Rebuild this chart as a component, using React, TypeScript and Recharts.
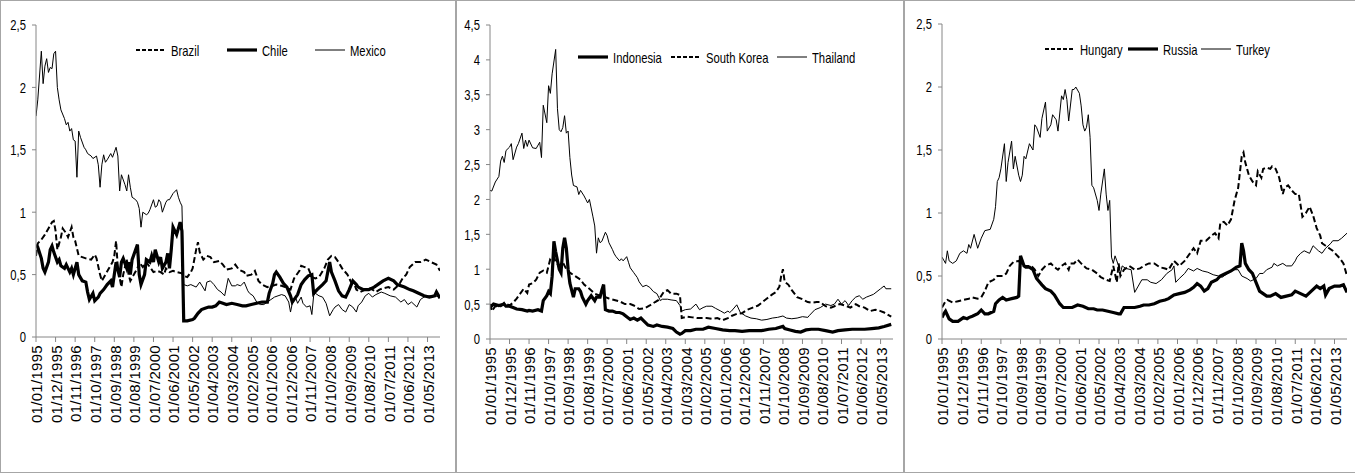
import React from 'react'
import { LineChart, Line, XAxis, YAxis, Legend } from 'recharts'

type Pt = [number, number]

// month index 0 = Jan 1995, last = Dec 2013
const TICK_MONTHS = [0, 11, 22, 33, 44, 55, 66, 77, 88, 99, 110, 121, 132, 143, 154, 165, 176, 187, 198, 209, 220]
const Y_TICKS_25 = [0, 0.5, 1, 1.5, 2, 2.5]
const Y_TICKS_45 = [0, 0.5, 1, 1.5, 2, 2.5, 3, 3.5, 4, 4.5]

const BRAZIL: Pt[] = [[0,0.65],[1,0.75],[3,0.78],[5,0.82],[7,0.87],[9,0.92],[10,0.93],[11,0.85],[12,0.7],[14,0.8],[15,0.87],[17,0.83],[18,0.8],[20,0.88],[21,0.8],[22,0.77],[24,0.65],[26,0.64],[28,0.63],[31,0.62],[33,0.66],[34,0.63],[36,0.5],[37,0.45],[39,0.5],[41,0.55],[43,0.6],[44,0.65],[45,0.77],[46,0.55],[48,0.4],[49,0.5],[51,0.62],[52,0.5],[53,0.45],[55,0.5],[57,0.55],[58,0.6],[60,0.56],[62,0.6],[64,0.56],[66,0.52],[68,0.53],[70,0.52],[72,0.5],[73,0.55],[75,0.52],[77,0.53],[79,0.52],[82,0.51],[83,0.49],[85,0.48],[87,0.52],[88,0.55],[90,0.7],[91,0.76],[92,0.68],[94,0.62],[96,0.65],[98,0.64],[100,0.6],[103,0.61],[105,0.58],[107,0.54],[110,0.55],[112,0.58],[114,0.54],[117,0.52],[118,0.49],[121,0.5],[123,0.53],[125,0.45],[127,0.42],[130,0.4],[133,0.41],[135,0.42],[138,0.41],[140,0.4],[143,0.38],[145,0.47],[148,0.53],[149,0.57],[151,0.56],[153,0.55],[155,0.48],[157,0.47],[159,0.48],[162,0.55],[164,0.62],[166,0.65],[168,0.64],[170,0.6],[172,0.55],[175,0.5],[177,0.44],[179,0.42],[180,0.38],[182,0.36],[185,0.38],[188,0.39],[191,0.36],[193,0.38],[195,0.39],[198,0.4],[201,0.38],[204,0.42],[206,0.47],[208,0.5],[210,0.56],[213,0.6],[216,0.6],[219,0.62],[222,0.6],[225,0.58],[227,0.53]]
const CHILE: Pt[] = [[0,0.74],[1,0.72],[3,0.63],[4,0.55],[5,0.52],[7,0.6],[8,0.7],[9,0.73],[10,0.68],[12,0.6],[13,0.62],[14,0.57],[16,0.55],[17,0.58],[19,0.52],[20,0.55],[21,0.5],[23,0.6],[24,0.5],[26,0.45],[28,0.44],[29,0.36],[30,0.3],[32,0.35],[33,0.29],[35,0.32],[36,0.35],[38,0.38],[40,0.42],[42,0.45],[43,0.4],[44,0.5],[45,0.6],[47,0.48],[48,0.6],[49,0.63],[51,0.55],[52,0.6],[53,0.5],[54,0.62],[57,0.74],[58,0.5],[59,0.42],[61,0.5],[62,0.62],[64,0.6],[65,0.65],[66,0.6],[67,0.7],[69,0.6],[70,0.64],[71,0.55],[73,0.6],[74,0.67],[75,0.55],[76,0.7],[77,0.88],[79,0.82],[80,0.87],[81,0.92],[82,0.85],[83,0.13],[85,0.13],[88,0.14],[89,0.15],[91,0.19],[93,0.22],[95,0.23],[97,0.24],[99,0.24],[101,0.25],[103,0.28],[105,0.27],[107,0.26],[110,0.27],[113,0.26],[116,0.25],[118,0.25],[121,0.26],[124,0.27],[127,0.28],[130,0.28],[131,0.35],[133,0.43],[134,0.5],[135,0.52],[137,0.48],[139,0.43],[141,0.4],[143,0.33],[144,0.28],[147,0.34],[149,0.42],[151,0.46],[153,0.49],[155,0.5],[156,0.35],[158,0.38],[161,0.42],[163,0.45],[165,0.6],[166,0.52],[168,0.45],[170,0.37],[172,0.33],[174,0.32],[176,0.38],[178,0.45],[180,0.42],[181,0.4],[184,0.38],[187,0.38],[190,0.4],[193,0.43],[195,0.45],[198,0.47],[201,0.45],[203,0.42],[207,0.4],[210,0.38],[212,0.37],[215,0.35],[218,0.33],[221,0.32],[224,0.33],[225,0.36],[227,0.31]]
const MEXICO: Pt[] = [[0,1.77],[1,1.9],[3,2.29],[4,2.03],[5,2.17],[6,2.23],[7,2.12],[8,2.16],[9,2.15],[10,2.27],[11,2.29],[12,2.0],[13,1.9],[14,1.82],[16,1.75],[17,1.7],[18,1.72],[19,1.65],[20,1.67],[21,1.58],[22,1.57],[23,1.28],[24,1.65],[25,1.6],[27,1.52],[28,1.5],[29,1.47],[31,1.45],[32,1.43],[34,1.45],[35,1.38],[36,1.2],[37,1.38],[38,1.46],[39,1.4],[40,1.42],[42,1.47],[43,1.44],[44,1.48],[45,1.52],[46,1.45],[47,1.17],[48,1.3],[50,1.22],[51,1.17],[52,1.3],[53,1.2],[54,1.12],[56,1.1],[57,1.08],[58,1.03],[59,0.88],[60,1.0],[62,0.98],[63,0.99],[64,1.02],[66,1.1],[67,1.04],[68,1.05],[69,1.1],[70,1.08],[71,1.0],[73,1.08],[74,1.1],[75,1.1],[77,1.15],[79,1.18],[80,1.12],[81,1.08],[82,1.05],[83,0.42],[85,0.41],[87,0.42],[90,0.4],[92,0.44],[95,0.37],[96,0.44],[98,0.45],[100,0.42],[102,0.38],[104,0.36],[106,0.33],[107,0.4],[108,0.47],[110,0.41],[112,0.41],[113,0.42],[115,0.41],[117,0.44],[119,0.37],[120,0.35],[122,0.33],[124,0.28],[126,0.26],[128,0.26],[130,0.28],[132,0.3],[134,0.32],[136,0.33],[138,0.34],[140,0.33],[142,0.28],[143,0.2],[144,0.27],[146,0.31],[147,0.27],[149,0.32],[150,0.27],[152,0.24],[154,0.25],[155,0.18],[156,0.33],[157,0.35],[159,0.33],[161,0.32],[163,0.27],[165,0.17],[167,0.22],[168,0.24],[170,0.26],[172,0.22],[174,0.2],[176,0.26],[178,0.24],[180,0.2],[181,0.25],[183,0.28],[185,0.33],[187,0.35],[189,0.32],[191,0.34],[194,0.36],[196,0.35],[199,0.33],[202,0.32],[205,0.28],[207,0.3],[209,0.26],[211,0.28],[214,0.24],[216,0.3],[218,0.32],[221,0.33],[224,0.33],[227,0.32]]

const INDONESIA: Pt[] = [[0,0.45],[2,0.5],[5,0.48],[8,0.5],[9,0.47],[11,0.47],[13,0.45],[15,0.43],[18,0.42],[21,0.4],[22,0.41],[24,0.4],[27,0.42],[29,0.4],[30,0.55],[32,0.62],[33,0.68],[34,0.65],[35,0.9],[36,1.4],[37,1.25],[39,1.0],[40,0.95],[41,1.3],[42,1.45],[43,1.3],[44,1.0],[45,0.8],[47,0.6],[48,0.72],[50,0.72],[51,0.68],[52,0.6],[54,0.5],[55,0.55],[57,0.62],[59,0.55],[60,0.6],[62,0.6],[63,0.7],[64,0.78],[65,0.42],[67,0.4],[69,0.4],[71,0.38],[73,0.38],[75,0.36],[77,0.32],[79,0.28],[81,0.3],[83,0.27],[85,0.3],[87,0.25],[89,0.2],[92,0.18],[94,0.2],[97,0.18],[100,0.17],[103,0.15],[105,0.1],[107,0.07],[108,0.08],[110,0.12],[113,0.12],[116,0.14],[120,0.14],[123,0.17],[127,0.15],[131,0.13],[135,0.12],[138,0.12],[142,0.11],[146,0.12],[150,0.12],[153,0.12],[157,0.14],[161,0.15],[165,0.18],[166,0.15],[169,0.13],[172,0.11],[175,0.1],[178,0.13],[181,0.14],[185,0.14],[189,0.12],[193,0.1],[196,0.12],[200,0.13],[204,0.14],[208,0.14],[211,0.14],[215,0.15],[219,0.16],[222,0.18],[226,0.21]]
const SOUTH_KOREA: Pt[] = [[0,0.5],[1,0.4],[3,0.47],[6,0.47],[8,0.52],[11,0.48],[13,0.52],[15,0.58],[17,0.65],[19,0.72],[21,0.66],[22,0.78],[24,0.8],[26,0.85],[28,0.95],[30,0.98],[32,0.95],[34,1.15],[36,1.18],[37,1.1],[39,1.05],[41,1.1],[43,1.0],[45,0.95],[48,0.9],[51,0.85],[53,0.78],[56,0.72],[59,0.65],[62,0.62],[65,0.6],[67,0.58],[70,0.56],[73,0.54],[76,0.5],[79,0.5],[81,0.48],[84,0.43],[87,0.44],[90,0.48],[93,0.53],[95,0.56],[98,0.68],[100,0.7],[102,0.65],[105,0.65],[107,0.63],[108,0.3],[111,0.32],[114,0.31],[117,0.3],[120,0.3],[122,0.3],[125,0.29],[128,0.3],[131,0.27],[134,0.3],[136,0.33],[139,0.36],[142,0.37],[145,0.42],[148,0.45],[151,0.48],[153,0.52],[156,0.58],[159,0.64],[161,0.67],[163,0.75],[164,0.9],[165,1.0],[166,0.82],[168,0.78],[170,0.7],[173,0.6],[176,0.57],[179,0.53],[181,0.52],[184,0.53],[186,0.53],[189,0.47],[192,0.45],[194,0.47],[197,0.5],[200,0.48],[203,0.45],[206,0.5],[208,0.47],[211,0.45],[214,0.4],[217,0.42],[220,0.4],[222,0.38],[226,0.32]]
const THAILAND: Pt[] = [[0,2.13],[1,2.12],[3,2.25],[5,2.33],[6,2.55],[7,2.62],[8,2.53],[9,2.7],[11,2.75],[12,2.8],[13,2.57],[15,2.75],[16,2.8],[18,2.95],[19,2.73],[20,2.85],[21,2.76],[22,2.85],[24,2.74],[26,2.73],[28,2.82],[29,2.6],[30,3.35],[32,3.1],[33,3.63],[34,3.52],[35,3.8],[37,4.15],[38,3.3],[39,3.0],[40,2.97],[41,3.03],[42,3.2],[43,2.95],[44,2.98],[45,2.6],[46,2.35],[47,2.2],[49,2.18],[50,2.07],[51,2.13],[53,2.05],[54,2.0],[55,1.95],[56,2.0],[58,1.75],[59,1.62],[60,1.23],[61,1.45],[62,1.38],[63,1.4],[65,1.53],[66,1.48],[67,1.38],[69,1.28],[70,1.22],[71,1.18],[73,1.12],[74,1.15],[75,1.12],[77,1.18],[78,1.1],[79,1.02],[81,0.95],[83,0.88],[84,0.82],[86,0.75],[88,0.77],[90,0.74],[92,0.68],[94,0.65],[96,0.55],[97,0.57],[100,0.57],[102,0.56],[105,0.55],[107,0.48],[108,0.4],[110,0.42],[113,0.43],[116,0.5],[118,0.42],[120,0.45],[122,0.47],[125,0.47],[127,0.44],[130,0.4],[132,0.37],[134,0.4],[135,0.38],[136,0.4],[139,0.49],[141,0.38],[144,0.33],[147,0.3],[150,0.29],[153,0.27],[156,0.28],[159,0.3],[162,0.31],[165,0.33],[167,0.3],[170,0.29],[173,0.3],[176,0.32],[179,0.31],[180,0.34],[183,0.42],[186,0.45],[189,0.5],[192,0.48],[194,0.5],[196,0.57],[198,0.5],[200,0.55],[202,0.48],[204,0.55],[206,0.6],[208,0.62],[210,0.57],[212,0.6],[214,0.62],[216,0.64],[218,0.68],[220,0.72],[222,0.76],[223,0.72],[226,0.72]]

const HUNGARY: Pt[] = [[0,0.25],[2,0.3],[3,0.31],[6,0.29],[9,0.3],[12,0.31],[15,0.32],[17,0.33],[20,0.32],[22,0.33],[24,0.38],[26,0.45],[29,0.47],[31,0.5],[34,0.5],[36,0.52],[38,0.58],[40,0.61],[43,0.62],[44,0.6],[46,0.58],[48,0.58],[50,0.58],[52,0.55],[54,0.5],[56,0.55],[58,0.58],[61,0.6],[63,0.57],[65,0.55],[67,0.58],[69,0.6],[71,0.55],[72,0.6],[74,0.6],[76,0.63],[78,0.6],[81,0.56],[84,0.55],[87,0.52],[89,0.49],[92,0.47],[94,0.46],[96,0.58],[98,0.45],[99,0.6],[100,0.5],[102,0.55],[105,0.58],[108,0.55],[111,0.56],[113,0.58],[116,0.6],[119,0.6],[122,0.57],[125,0.56],[127,0.55],[130,0.62],[133,0.58],[136,0.62],[139,0.68],[141,0.72],[143,0.68],[145,0.78],[148,0.78],[151,0.82],[153,0.84],[155,0.8],[156,0.92],[158,0.93],[160,0.9],[162,0.95],[164,1.1],[166,1.2],[168,1.45],[169,1.48],[170,1.4],[172,1.3],[174,1.25],[176,1.22],[177,1.33],[179,1.28],[180,1.35],[182,1.36],[184,1.35],[185,1.37],[187,1.35],[189,1.28],[191,1.15],[192,1.2],[194,1.22],[196,1.18],[198,1.15],[200,1.15],[202,0.97],[204,1.0],[206,1.05],[208,0.98],[210,0.88],[212,0.82],[213,0.76],[215,0.74],[217,0.72],[219,0.7],[221,0.67],[223,0.64],[225,0.6],[227,0.5]]
const RUSSIA: Pt[] = [[0,0.17],[1,0.2],[2,0.22],[4,0.16],[6,0.14],[9,0.14],[12,0.17],[14,0.16],[15,0.17],[17,0.18],[20,0.2],[22,0.23],[24,0.2],[26,0.2],[29,0.22],[30,0.28],[32,0.31],[34,0.33],[36,0.31],[39,0.32],[42,0.33],[43,0.34],[44,0.66],[46,0.58],[47,0.57],[49,0.57],[51,0.55],[53,0.48],[56,0.43],[58,0.4],[61,0.38],[63,0.35],[66,0.28],[68,0.25],[71,0.25],[73,0.25],[76,0.27],[79,0.26],[82,0.24],[85,0.24],[87,0.23],[90,0.23],[93,0.22],[96,0.21],[99,0.2],[100,0.2],[102,0.25],[105,0.25],[108,0.25],[111,0.26],[113,0.27],[116,0.27],[119,0.28],[122,0.3],[125,0.31],[127,0.32],[130,0.35],[133,0.36],[136,0.37],[139,0.39],[141,0.41],[143,0.44],[145,0.42],[147,0.38],[149,0.4],[151,0.45],[154,0.47],[156,0.5],[159,0.52],[162,0.54],[165,0.57],[167,0.58],[168,0.76],[169,0.7],[170,0.6],[172,0.55],[174,0.52],[176,0.45],[178,0.38],[180,0.36],[182,0.34],[184,0.34],[187,0.36],[190,0.33],[193,0.34],[196,0.35],[198,0.38],[201,0.36],[204,0.34],[207,0.38],[210,0.42],[212,0.4],[214,0.42],[215,0.35],[217,0.4],[220,0.42],[223,0.42],[225,0.43],[227,0.37]]
const TURKEY: Pt[] = [[0,0.65],[2,0.6],[3,0.7],[4,0.62],[6,0.6],[8,0.62],[10,0.68],[12,0.7],[14,0.68],[15,0.75],[16,0.72],[18,0.83],[20,0.72],[22,0.8],[24,0.86],[27,0.87],[29,0.95],[30,1.05],[31,1.25],[32,1.28],[33,1.35],[35,1.55],[36,1.25],[37,1.4],[39,1.57],[40,1.35],[41,1.45],[43,1.3],[44,1.25],[45,1.3],[46,1.45],[47,1.43],[49,1.55],[51,1.5],[52,1.7],[53,1.68],[55,1.6],[56,1.75],[58,1.88],[59,1.65],[61,1.7],[62,1.78],[64,1.74],[65,1.65],[67,1.93],[68,1.9],[69,1.98],[70,1.9],[71,1.73],[73,1.98],[74,1.98],[75,2.0],[77,1.95],[78,1.85],[79,1.7],[80,1.65],[81,1.68],[82,1.78],[83,1.6],[84,1.22],[85,1.2],[87,1.1],[88,1.02],[89,1.15],[91,1.35],[92,1.15],[93,1.02],[94,1.1],[95,0.65],[96,0.6],[97,0.66],[99,0.58],[100,0.52],[101,0.58],[103,0.56],[106,0.55],[108,0.37],[110,0.42],[112,0.47],[115,0.47],[117,0.45],[120,0.44],[123,0.47],[126,0.52],[129,0.55],[130,0.58],[131,0.45],[133,0.48],[136,0.52],[138,0.56],[141,0.54],[143,0.56],[146,0.54],[149,0.53],[152,0.51],[155,0.5],[157,0.49],[160,0.52],[163,0.55],[166,0.55],[168,0.5],[171,0.48],[173,0.46],[176,0.48],[178,0.52],[180,0.52],[182,0.55],[185,0.57],[186,0.6],[188,0.58],[191,0.6],[193,0.58],[196,0.58],[198,0.62],[199,0.65],[201,0.68],[203,0.7],[206,0.68],[208,0.74],[211,0.7],[213,0.68],[215,0.72],[218,0.76],[219,0.78],[222,0.78],[224,0.8],[227,0.84]]

const AXIS = '#868686'
const FONT = "'Liberation Sans', Arial, sans-serif"
const CHART_H = 471
const NARROW_X = 0.75 // squeeze to mimic the narrow original font

type Kind = 'dash' | 'thick' | 'thin'
const STYLES: Record<Kind, { width: number; dash?: string; legendDash?: string }> = {
  dash: { width: 2, dash: '6 3', legendDash: '4 2' },
  thick: { width: 3.2 },
  thin: { width: 1 },
}

interface Series { name: string; pts: Pt[]; kind: Kind }
interface PanelDef {
  left: number; width: number
  plotLeft: number; plotRight: number; plotTop: number; plotBottom: number
  yMax: number; yTicks: number[]
  legendXs: number[]; legendY: number
  series: Series[]
}

const PANELS: PanelDef[] = [
  {
    left: 0, width: 456, plotLeft: 35, plotRight: 439, plotTop: 24, plotBottom: 336,
    yMax: 2.5, yTicks: Y_TICKS_25, legendXs: [135, 226, 314], legendY: 49,
    series: [
      { name: 'Brazil', pts: BRAZIL, kind: 'dash' },
      { name: 'Chile', pts: CHILE, kind: 'thick' },
      { name: 'Mexico', pts: MEXICO, kind: 'thin' },
    ],
  },
  {
    left: 456, width: 448, plotLeft: 33, plotRight: 436, plotTop: 24, plotBottom: 338,
    yMax: 4.5, yTicks: Y_TICKS_45, legendXs: [121, 214, 320], legendY: 56,
    series: [
      { name: 'Indonesia', pts: INDONESIA, kind: 'thick' },
      { name: 'South Korea', pts: SOUTH_KOREA, kind: 'dash' },
      { name: 'Thailand', pts: THAILAND, kind: 'thin' },
    ],
  },
  {
    left: 904, width: 452, plotLeft: 37, plotRight: 442, plotTop: 23, plotBottom: 338,
    yMax: 2.5, yTicks: Y_TICKS_25, legendXs: [140, 223, 296], legendY: 48,
    series: [
      { name: 'Hungary', pts: HUNGARY, kind: 'dash' },
      { name: 'Russia', pts: RUSSIA, kind: 'thick' },
      { name: 'Turkey', pts: TURKEY, kind: 'thin' },
    ],
  },
]

const monthLabel = (m: number) => {
  const mm = String((m % 12) + 1).padStart(2, '0')
  return `01/${mm}/${1995 + Math.floor(m / 12)}`
}

const DateTick = (props: any) => {
  const { x, y, payload } = props
  return (
    <text
      x={x} y={y} dy="0.42em"
      transform={`rotate(-90, ${x}, ${y})`}
      textAnchor="end" fill="#000" fontSize={15} fontFamily={FONT} letterSpacing={0.3}
    >
      {monthLabel(payload.value)}
    </text>
  )
}

const ValueTick = (props: any) => {
  const { x, y, payload } = props
  return (
    <text
      transform={`translate(${x}, ${y}) scale(${NARROW_X}, 1)`}
      dy="0.36em" textAnchor="end" fill="#000" fontSize={15} fontFamily={FONT}
    >
      {String(payload.value).replace('.', ',')}
    </text>
  )
}

function LegendRow({ def }: { def: PanelDef }) {
  const x0 = def.legendXs[0]
  return (
    <div style={{ position: 'relative', width: 330, height: 18 }}>
      {def.series.map((s, i) => {
        const st = STYLES[s.kind]
        return (
          <div key={s.name} style={{ position: 'absolute', left: def.legendXs[i] - x0, top: 0, height: 18, display: 'flex', alignItems: 'center' }}>
            <svg width={30} height={10} style={{ display: 'block' }}>
              <line x1={0} y1={5} x2={30} y2={5} stroke="#000" strokeWidth={st.width} strokeDasharray={st.legendDash} />
            </svg>
            <span style={{
              marginLeft: 5, fontFamily: FONT, fontSize: 15, color: '#000', whiteSpace: 'nowrap',
              display: 'inline-block', transform: `scaleX(${NARROW_X})`, transformOrigin: 'left center',
            }}>{s.name}</span>
          </div>
        )
      })}
    </div>
  )
}

function Panel({ def }: { def: PanelDef }) {
  const innerW = def.width - 2
  return (
    <div style={{
      position: 'absolute', left: def.left, top: 0, width: def.width, height: 473,
      border: '1px solid #a6a6a6', boxSizing: 'border-box', background: '#fff',
    }}>
      <LineChart
        width={innerW} height={CHART_H}
        margin={{ top: def.plotTop, right: innerW - def.plotRight, left: 0, bottom: 0 }}
      >
        <XAxis
          type="number" dataKey="m" domain={[0, 227]} ticks={TICK_MONTHS} interval={0}
          height={CHART_H - def.plotBottom} tickSize={5} tickMargin={3}
          stroke={AXIS} tick={DateTick} allowDataOverflow
        />
        <YAxis
          type="number" domain={[0, def.yMax]} ticks={def.yTicks} interval={0}
          width={def.plotLeft} tickSize={4} tickMargin={6} stroke={AXIS}
          tick={ValueTick}
        />
        <Legend
          layout="vertical" align="center" verticalAlign="middle"
          wrapperStyle={{ left: def.legendXs[0], top: def.legendY - 9, width: 'auto', height: 'auto' }}
          content={() => <LegendRow def={def} />}
        />
        {def.series.map((s) => {
          const st = STYLES[s.kind]
          return (
            <Line
              key={s.name}
              name={s.name}
              data={s.pts.map(([m, v]) => ({ m, v }))}
              dataKey="v"
              type="linear"
              stroke="#000"
              strokeWidth={st.width}
              strokeDasharray={st.dash}
              dot={false}
              activeDot={false}
              isAnimationActive={false}
            />
          )
        })}
      </LineChart>
    </div>
  )
}

export default function App() {
  return (
    <div style={{ position: 'absolute', left: 0, top: 0, width: 1355, height: 473, background: '#fff', overflow: 'hidden' }}>
      {PANELS.map((p, i) => <Panel key={i} def={p} />)}
    </div>
  )
}
